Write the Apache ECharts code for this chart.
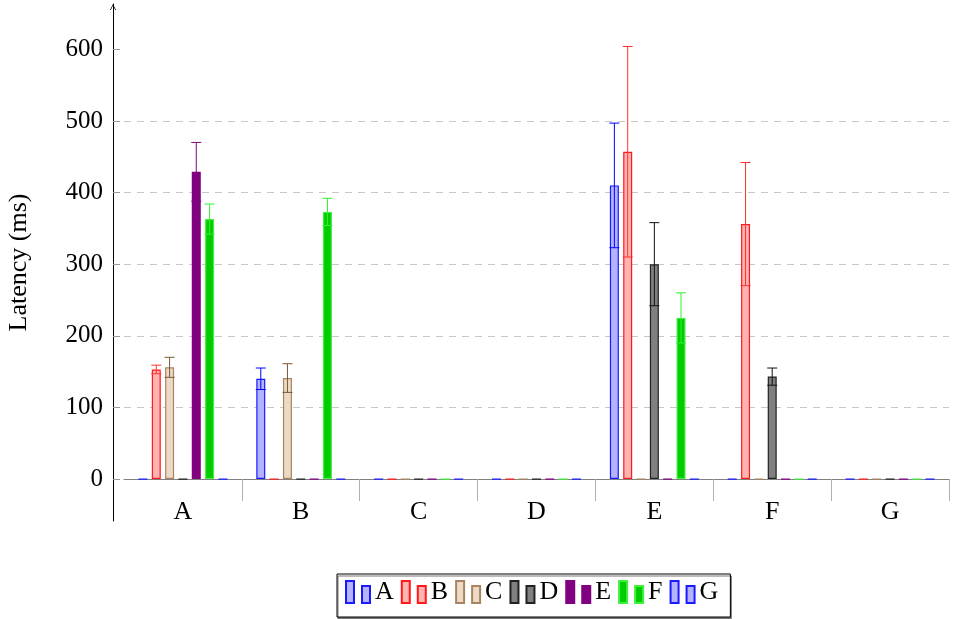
<!DOCTYPE html>
<html>
<head>
<meta charset="utf-8">
<script src="https://cdn.jsdelivr.net/npm/echarts@6/dist/echarts.min.js"></script>
<style>
  html, body { margin: 0; padding: 0; background: #fff; }
  #chart { width: 959px; height: 619px; }
</style>
</head>
<body>
<div id="chart"></div>
<script>
// Categories on the x axis and the series shown in the legend
const categories = ['A', 'B', 'C', 'D', 'E', 'F', 'G'];
const seriesNames = ['A', 'B', 'C', 'D', 'E', 'F', 'G'];

// Mean latency (ms) per series, one value per category
const latencyA = [0, 140, 0, 0, 410, 0, 0];
const latencyB = [153, 0, 0, 0, 457, 356, 0];
const latencyC = [156, 141, 0, 0, 0, 0, 0];
const latencyD = [0, 0, 0, 0, 300, 143, 0];
const latencyE = [429, 0, 0, 0, 0, 0, 0];
const latencyF = [363, 373, 0, 0, 225, 0, 0];
const latencyG = [0, 0, 0, 0, 0, 0, 0];

// Error bar half-lengths (ms)
const errorA = [0, 15, 0, 0, 87, 0, 0];
const errorB = [6, 0, 0, 0, 147, 86, 0];
const errorC = [14, 20, 0, 0, 0, 0, 0];
const errorD = [0, 0, 0, 0, 58, 12, 0];
const errorE = [41, 0, 0, 0, 0, 0, 0];
const errorF = [21, 19, 0, 0, 35, 0, 0];
const errorG = [0, 0, 0, 0, 0, 0, 0];

// Y axis tick labels
const yTicks = [0, 100, 200, 300, 400, 500, 600];

const latency = [latencyA, latencyB, latencyC, latencyD, latencyE, latencyF, latencyG];
const errors = [errorA, errorB, errorC, errorD, errorE, errorF, errorG];

// Bar fill, outline and error-bar colours per series
const palette = [
  { fill: '#b3b3ff', line: '#1a1aff', err: '#0000ff' },
  { fill: '#ffb3b3', line: '#ff1a1a', err: '#ff3030' },
  { fill: '#ecdac6', line: '#a88560', err: '#7a5838' },
  { fill: '#808080', line: '#222222', err: '#111111' },
  { fill: '#800080', line: '#800080', err: '#800080' },
  { fill: '#00cc00', line: '#40f040', err: '#30f030' },
  { fill: '#b3b3ff', line: '#1a1aff', err: '#0000ff' }
];

const FONT = 'Liberation Serif';
const Y_MIN = -58.6;
const Y_MAX = 663.3;
const GRID_TOP = 4;
const GRID_BOTTOM = 98;
const BAR_W = 9;
const BAR_STEP = 13.33;
const CAP_HALF = 5;
const legendIcon = 'path://M0,0H8V22H0Z M16,5H24V22H16Z';
const arrowHead = 'path://M0,10 L5,0 L10,10 L8.6,10 L5,2.6 L1.4,10 Z';

// The category axis sits on y = 0: shift it up from the grid's bottom edge
const plotHeight = 619 - GRID_TOP - GRID_BOTTOM;
const zeroLift = plotHeight * (0 - Y_MIN) / (Y_MAX - Y_MIN);

const barSeries = seriesNames.map((name, i) => ({
  type: 'bar',
  name: name,
  data: latency[i],
  barWidth: BAR_W,
  barGap: ((BAR_STEP - BAR_W) / BAR_W * 100).toFixed(1) + '%',
  itemStyle: { color: palette[i].fill, borderColor: palette[i].line, borderWidth: 1.2 },
  emphasis: { disabled: true },
  z: 2
}));

const errorSeries = seriesNames.map((name, i) => ({
  type: 'custom',
  name: name + ' error',
  silent: true,
  z: 3,
  data: latency[i].map((v, k) => [k, v, errors[i][k]]).filter(d => d[2] > 0),
  renderItem: (params, api) => {
    const k = api.value(0), v = api.value(1), e = api.value(2);
    const x = api.coord([k, v])[0] + (i - 3) * BAR_STEP;
    const yTop = api.coord([k, v + e])[1];
    const yBot = api.coord([k, v - e])[1];
    const style = { stroke: palette[i].err, lineWidth: 1 };
    return {
      type: 'group',
      children: [
        { type: 'line', shape: { x1: x, y1: yTop, x2: x, y2: yBot }, style },
        { type: 'line', shape: { x1: x - CAP_HALF, y1: yTop, x2: x + CAP_HALF, y2: yTop }, style },
        { type: 'line', shape: { x1: x - CAP_HALF, y1: yBot, x2: x + CAP_HALF, y2: yBot }, style }
      ]
    };
  }
}));

const chart = echarts.init(document.getElementById('chart'));
chart.setOption({
  animation: false,
  backgroundColor: '#fff',
  grid: {
    left: 124, right: 10, top: GRID_TOP, bottom: GRID_BOTTOM,
    containLabel: false, outerBoundsMode: 'none'
  },
  legend: {
    data: seriesNames,
    left: 337,
    top: 574,
    orient: 'horizontal',
    icon: legendIcon,
    itemWidth: 24,
    itemHeight: 22,
    itemGap: 7,
    padding: [5, 12, 12, 8],
    backgroundColor: '#fff',
    borderColor: '#000',
    borderWidth: 1,
    borderRadius: 0,
    shadowColor: '#777',
    shadowOffsetX: 1,
    shadowOffsetY: 2,
    shadowBlur: 0,
    selectedMode: false,
    textStyle: { fontFamily: FONT, fontSize: 26, color: '#000', padding: [5, 0, 0, 0] }
  },
  xAxis: {
    type: 'category',
    data: categories,
    offset: -zeroLift,
    axisLine: { show: true, onZero: false, lineStyle: { color: '#808080', width: 1.2 } },
    axisTick: {
      show: true,
      length: 22,
      interval: (index) => index > 0,
      lineStyle: { color: '#b0b0b0', width: 1 }
    },
    axisLabel: { margin: 20, fontFamily: FONT, fontSize: 26, color: '#000' },
    splitLine: { show: false }
  },
  yAxis: {
    type: 'value',
    min: Y_MIN,
    max: Y_MAX,
    offset: 11,
    name: 'Latency (ms)',
    nameLocation: 'middle',
    nameGap: 81,
    nameTextStyle: { fontFamily: FONT, fontSize: 26, color: '#000' },
    axisLine: {
      show: true,
      lineStyle: { color: '#000', width: 1 },
      symbol: ['none', arrowHead],
      symbolSize: [8, 6],
      symbolOffset: [0, -3]
    },
    axisTick: {
      show: true,
      inside: true,
      length: 7,
      customValues: yTicks,
      lineStyle: { color: '#999' }
    },
    axisLabel: {
      customValues: yTicks,
      margin: 10,
      fontFamily: FONT,
      fontSize: 25,
      color: '#000'
    },
    splitLine: {
      show: true,
      showMinLine: false,
      showMaxLine: false,
      lineStyle: { color: '#c8c8c8', type: [7, 6], width: 1 }
    }
  },
  series: barSeries.concat(errorSeries)
});
</script>
</body>
</html>
